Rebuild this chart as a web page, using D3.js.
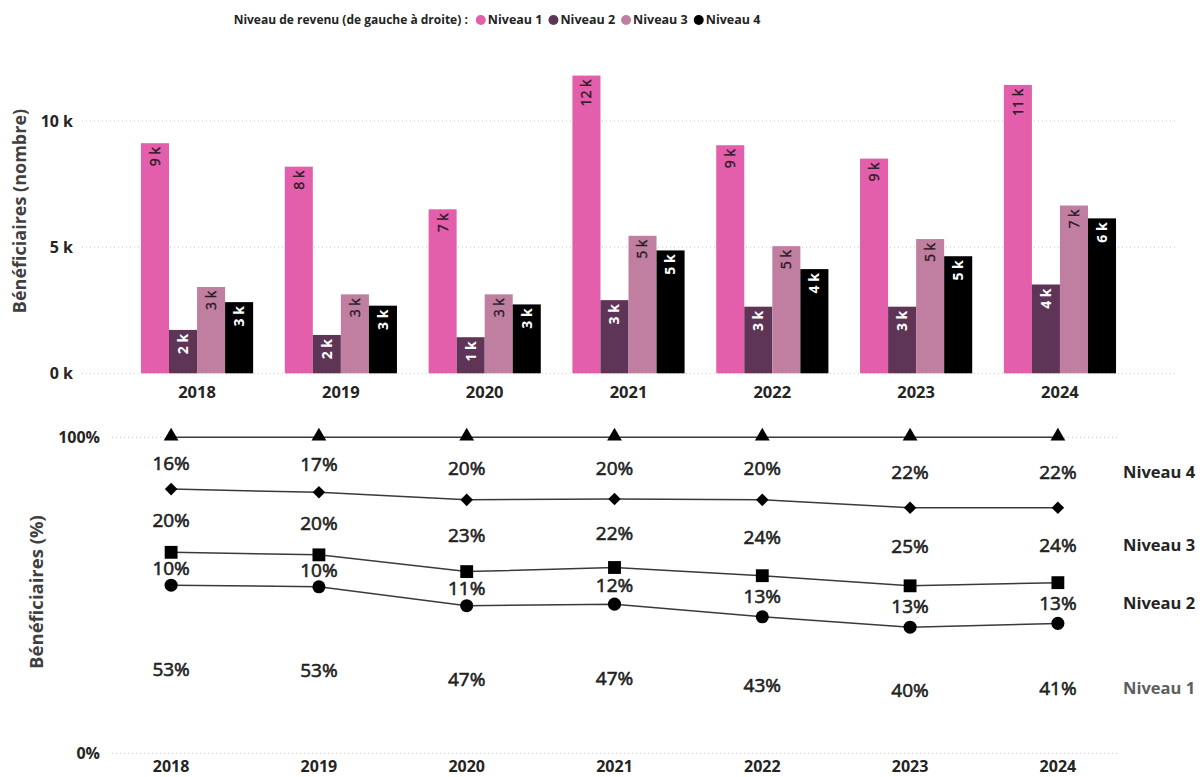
<!DOCTYPE html>
<html>
<head>
<meta charset="utf-8">
<script src="https://cdn.jsdelivr.net/npm/d3@7"></script>
<style>
    body { margin: 0; background: #fff; }
    text { font-family: "Open Sans", "Segoe UI", sans-serif; }
</style>
</head>
<body>
<svg id="chart" width="1204" height="777"></svg>
<script>
let years = ['2018', '2019', '2020', '2021', '2022', '2023', '2024']
let levels = ['Niveau 1', 'Niveau 2', 'Niveau 3', 'Niveau 4']
let colors = ['#e35fab', '#5f3557', '#c07fa1', '#000000']
let labelColors = ['#2a1a24', '#ffffff', '#2a1a24', '#ffffff']

// beneficiaries (count) per income level
let niveau1 = [9120, 8190, 6500, 11800, 9040, 8510, 11430]
let niveau2 = [1720, 1520, 1430, 2900, 2640, 2640, 3520]
let niveau3 = [3420, 3130, 3130, 5450, 5040, 5320, 6650]
let niveau4 = [2820, 2680, 2730, 4870, 4130, 4640, 6140]

// beneficiaries (%) per income level
let part1 = [53.2, 52.7, 46.7, 47.2, 43.2, 39.9, 41.1]
let part2 = [10.4, 10.1, 10.8, 11.6, 13.0, 13.1, 12.9]
let part3 = [20.0, 19.8, 22.7, 21.7, 24.0, 24.7, 23.7]
let part4 = [16.4, 17.4, 19.8, 19.5, 19.8, 22.3, 22.3]

let topTicks = [0, 5000, 10000]
let bottomTicks = [0, 100]

let counts = [niveau1, niveau2, niveau3, niveau4]
let parts = [part1, part2, part3, part4]

let svg = d3.select('#chart')
let dark = '#252423'

// ---------- legend ----------
let legend = svg.append('g')
let lx = 0
let legTitle = legend.append('text')
    .attr('x', lx).attr('dy', '0.35em')
    .style('font-size', '12px').style('font-weight', 700).attr('fill', dark)
    .text('Niveau de revenu (de gauche à droite) :')
lx += legTitle.node().getComputedTextLength() + 8
levels.forEach(function (lv, i) {
    legend.append('circle').attr('cx', lx + 5).attr('cy', 0).attr('r', 5).attr('fill', colors[i])
    let t = legend.append('text')
        .attr('x', lx + 12).attr('dy', '0.35em')
        .style('font-size', '12.5px').style('font-weight', 700).attr('fill', dark)
        .text(lv)
    lx += 12 + t.node().getComputedTextLength() + 6
})
legend.attr('transform', 'translate(' + (500 - lx / 2) + ',20)')

// ---------- top: grouped bars ----------
let x0 = d3.scaleBand()
    .domain(years)
    .range([82, 1175])
    .paddingInner(0.22)
    .paddingOuter(0.41)
let x1 = d3.scaleBand()
    .domain(levels)
    .range([0, x0.bandwidth()])
let y = d3.scaleLinear()
    .domain([0, 10000])
    .range([373.3, 121])

svg.append('g').selectAll('line')
    .data(topTicks)
    .enter().append('line')
    .attr('x1', 82).attr('x2', 1175)
    .attr('y1', d => y(d)).attr('y2', d => y(d))
    .attr('stroke', '#c8c8c8').attr('stroke-dasharray', '1,3')

svg.append('g').selectAll('text')
    .data(topTicks)
    .enter().append('text')
    .attr('x', 73).attr('y', d => y(d)).attr('dy', '0.35em')
    .attr('text-anchor', 'end')
    .style('font-size', '16px').style('font-weight', 700).attr('fill', dark)
    .text(d => (d / 1000) + ' k')

let groups = svg.append('g').selectAll('g')
    .data(years)
    .enter().append('g')
    .attr('transform', d => 'translate(' + x0(d) + ',0)')

groups.selectAll('rect')
    .data((yr, j) => levels.map((lv, i) => ({lv: lv, i: i, v: counts[i][j]})))
    .enter().append('rect')
    .attr('x', d => x1(d.lv))
    .attr('y', d => y(d.v))
    .attr('width', x1.bandwidth())
    .attr('height', d => y(0) - y(d.v))
    .attr('fill', d => colors[d.i])

groups.selectAll('text.val')
    .data((yr, j) => levels.map((lv, i) => ({lv: lv, i: i, v: counts[i][j]})))
    .enter().append('text')
    .attr('class', 'val')
    .attr('transform', d => 'translate(' + (x1(d.lv) + x1.bandwidth() / 2) + ',' + (y(d.v) + 4) + ') rotate(-90)')
    .attr('dy', '0.35em')
    .attr('text-anchor', 'end')
    .style('font-size', '14px')
    .style('font-weight', d => d.i % 2 ? 700 : 400)
    .attr('fill', d => labelColors[d.i])
    .attr('stroke', d => d.i % 2 ? 'none' : labelColors[d.i])
    .attr('stroke-width', 0.4)
    .text(d => d3.format('.0f')(d.v / 1000) + ' k')

svg.append('g').selectAll('text')
    .data(years)
    .enter().append('text')
    .attr('x', d => x0(d) + x0.bandwidth() / 2)
    .attr('y', 392).attr('dy', '0.35em')
    .attr('text-anchor', 'middle')
    .style('font-size', '16.5px').style('font-weight', 700).attr('fill', dark)
    .text(d => d)

svg.append('text')
    .attr('transform', 'translate(20,211) rotate(-90)')
    .attr('dy', '0.35em')
    .attr('text-anchor', 'middle')
    .style('font-size', '18px').style('font-weight', 700).attr('fill', '#404040')
    .text('Bénéficiaires (nombre)')

// ---------- bottom: cumulative shares ----------
let xp = d3.scalePoint()
    .domain(years)
    .range([112, 1117])
    .padding(0.4)
let yp = d3.scaleLinear()
    .domain([0, 100])
    .range([753.3, 437.3])

svg.append('g').selectAll('line')
    .data(bottomTicks)
    .enter().append('line')
    .attr('x1', 112).attr('x2', 1117)
    .attr('y1', d => yp(d)).attr('y2', d => yp(d))
    .attr('stroke', '#c8c8c8').attr('stroke-dasharray', '1,3')

svg.append('g').selectAll('text')
    .data(bottomTicks)
    .enter().append('text')
    .attr('x', 100).attr('y', d => yp(d)).attr('dy', '0.35em')
    .attr('text-anchor', 'end')
    .style('font-size', '16px').style('font-weight', 700).attr('fill', dark)
    .text(d => d + '%')

// cumulative top of each level
let cumul = levels.map(function (lv, i) {
    return years.map(function (yr, j) {
        let hi = 0
        for (let k = 0; k <= i; k++) hi += parts[k][j]
        return {year: yr, lo: hi - parts[i][j], hi: hi, v: parts[i][j]}
    })
})

let line = d3.line()
    .x(d => xp(d.year))
    .y(d => yp(d.hi))

let shapes = [d3.symbolCircle, d3.symbolSquare, d3.symbolDiamond2, d3.symbolTriangle]
let sizes = [135, 165, 100, 95]

cumul.forEach(function (serie, i) {
    svg.append('path')
        .datum(serie)
        .attr('d', line)
        .attr('fill', 'none')
        .attr('stroke', '#3a3a3a')
        .attr('stroke-width', 1.5)
    svg.append('g').selectAll('path')
        .data(serie)
        .enter().append('path')
        .attr('transform', d => 'translate(' + xp(d.year) + ',' + (yp(d.hi) + (i == 3 ? -1 : 0)) + ')')
        .attr('d', d3.symbol().type(shapes[i]).size(sizes[i]))
        .attr('fill', '#000')
})

cumul.forEach(function (serie, i) {
    svg.append('g').selectAll('text')
        .data(serie)
        .enter().append('text')
        .attr('x', d => xp(d.year))
        .attr('y', d => yp((d.lo + d.hi) / 2))
        .attr('dy', '0.35em')
        .attr('text-anchor', 'middle')
        .style('font-size', '19px').attr('fill', '#222')
        .attr('stroke', '#222').attr('stroke-width', 0.6)
        .text(d => d3.format('.0f')(d.v) + '%')
})

// level names at the right
cumul.forEach(function (serie, i) {
    let last = serie[serie.length - 1]
    svg.append('text')
        .attr('x', 1123)
        .attr('y', yp((last.lo + last.hi) / 2))
        .attr('dy', '0.35em')
        .style('font-size', '16.5px').style('font-weight', 700)
        .attr('fill', i == 0 ? '#605e5c' : dark)
        .text(levels[i])
})

svg.append('g').selectAll('text')
    .data(years)
    .enter().append('text')
    .attr('x', d => xp(d))
    .attr('y', 766).attr('dy', '0.35em')
    .attr('text-anchor', 'middle')
    .style('font-size', '16px').style('font-weight', 700).attr('fill', dark)
    .text(d => d)

svg.append('text')
    .attr('transform', 'translate(37,592) rotate(-90)')
    .attr('dy', '0.35em')
    .attr('text-anchor', 'middle')
    .style('font-size', '18.5px').style('font-weight', 700).attr('fill', '#404040')
    .text('Bénéficiaires (%)')
</script>
</body>
</html>
